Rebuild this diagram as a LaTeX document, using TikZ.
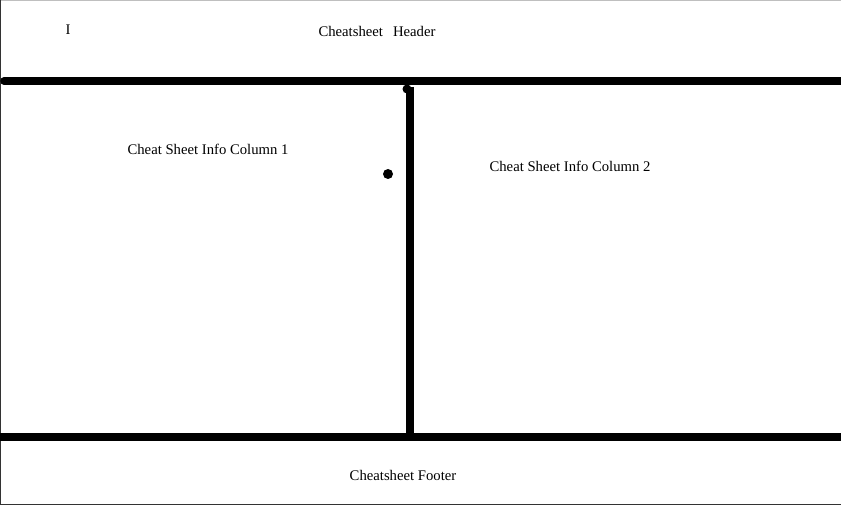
\documentclass[tikz,border=0pt]{standalone}
\usepackage{fontspec}
\setmainfont{Liberation Serif}
\colorlet{frame color}{black!80}
\tikzset{
    x={1pt},
    y={-1pt},
    frame/.style={
        draw={#1},
        line width={1.2pt},
    },
    frame/.default={frame color},
    stroke/.style={
        draw=black,
        line width={7.5pt},
        line cap=round,
    },
    sheet label/.style={
        font={\fontsize{14.7}{17}\selectfont},
        inner sep=0pt,
        anchor=center,
    },
    dot/.style={
        circle, fill=black,
        inner sep=0pt, outer sep=0pt,
        minimum size={#1},
    },
}

\begin{document}
\begin{tikzpicture}
% page
\useasboundingbox (0,0) rectangle (841,505);
\fill[white] (0,0) rectangle (841,505);
\draw[frame={black!25}] (0,0.5) -- (841,0.5);
\draw[frame] (0.5,0) -- (0.5,505);
\draw[frame] (0,504.4) -- (841,504.4);
% strokes
\coordinate (top left) at (4,81);
\coordinate (top right) at (845,81);
\coordinate (mid top) at (410,87);
\coordinate (mid bottom) at (410,436);
\coordinate (bottom left) at (-4,437);
\coordinate (bottom right) at (845,437);
\draw[stroke] (top left) -- (top right);
\draw[stroke, line cap=butt] (mid top) -- (mid bottom);
\draw[stroke, line cap=butt] (bottom left) -- (bottom right);
% dots
\node[dot={9}] (corner dot) at (407,89) {};
\node[dot={10}] (side dot) at (388,174) {};
% labels
\node[sheet label] (cursor) at (68,30) {I};
\node[sheet label] (header) at (377,31) {Cheatsheet\hspace{10pt}Header};
\node[sheet label] (column one) at (208,149) {Cheat Sheet Info Column 1};
\node[sheet label] (column two) at (570,166) {Cheat Sheet Info Column 2};
\node[sheet label] (footer) at (403,475) {Cheatsheet Footer};
\end{tikzpicture}
\end{document}
